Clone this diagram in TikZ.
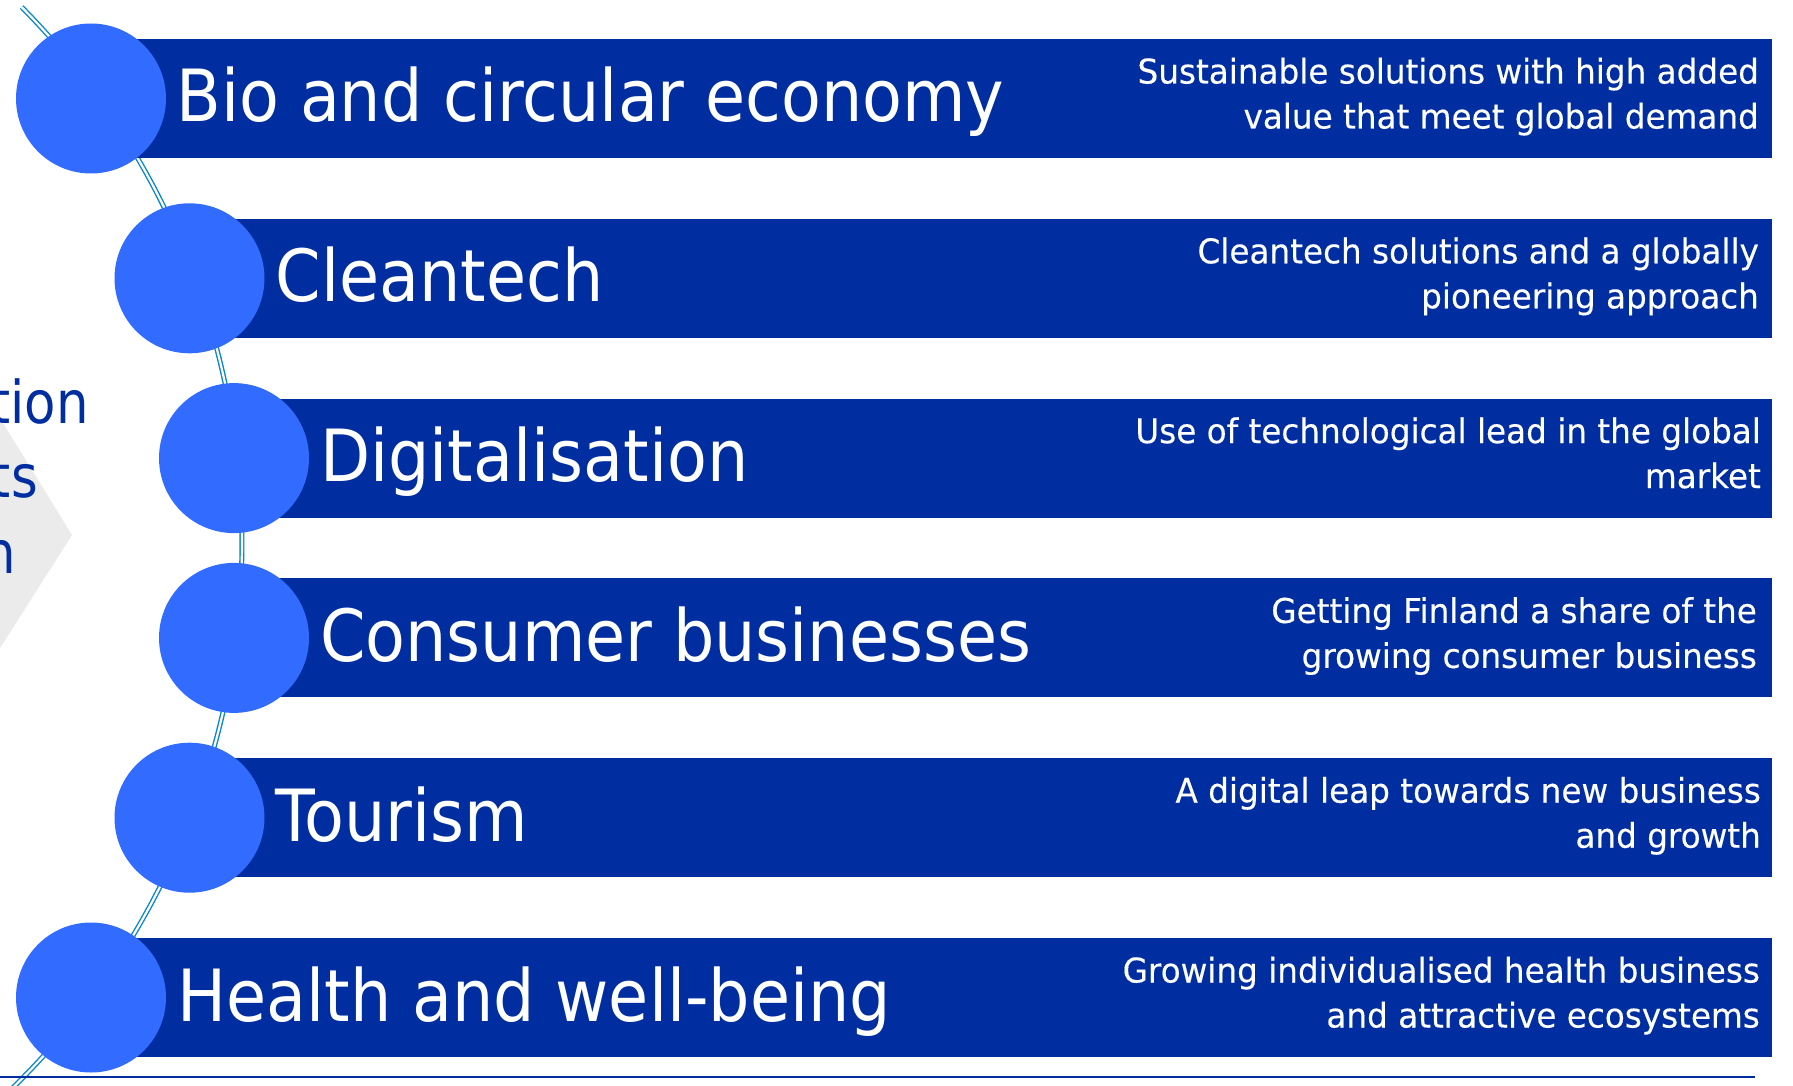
\documentclass[tikz,border=0pt]{standalone}
\usepackage{fontspec}
\setmainfont{DejaVu Sans}
\newfontfamily\titlefont[FakeStretch=0.905]{DejaVu Sans}
\newfontfamily\sidefont[FakeStretch=0.87]{DejaVu Sans}
\newfontfamily\descfont[FakeStretch=0.96,FakeBold=0.3]{DejaVu Sans}
\definecolor{barblue}{HTML}{002EA0}
\definecolor{dotblue}{HTML}{316BFF}
\definecolor{arcblue}{HTML}{0A87C8}
\definecolor{chevgrey}{HTML}{EBEBEB}
\tikzset{
  barfill/.style={fill=barblue},
  dot/.style={circle, fill=dotblue, minimum size=150pt, inner sep=0pt, draw=none},
  titletext/.style={text=white, anchor=base west, inner sep=0pt, font={\titlefont\fontsize{72}{80}\selectfont}},
  desctext/.style={text=white, anchor=base east, inner sep=0pt, font={\descfont\fontsize{34}{45}\selectfont}},
  sidetext/.style={text=barblue, anchor=base east, inner sep=0pt, font={\sidefont\fontsize{59}{75}\selectfont}},
  arcline/.style={draw=arcblue, double=white, line width=1.4pt, double distance=2.2pt},
}
\begin{document}
\begin{tikzpicture}[x=1pt,y=-1pt]
\useasboundingbox (0,0) rectangle (1793,1086);
% grey chevron and cut-off side text
\fill[chevgrey] (-5,410) -- (72,535) -- (-5,656) -- cycle;
\node[sidetext] (s1) at (89,423) {tion};
\node[sidetext] (s2) at (38,497) {ts};
\node[sidetext] (s3) at (16,573) {n};
% arc
\draw[arcline] plot[domain=-44.7:47, samples=90, smooth] ({-520+762*cos(\x)}, {543+762*sin(\x)});
% bars
\fill[barfill] (91,39) rectangle (1772,158);
\fill[barfill] (189.5,218.8) rectangle (1772,337.8);
\fill[barfill] (234,398.6) rectangle (1772,517.6);
\fill[barfill] (234,578.4) rectangle (1772,697.4);
\fill[barfill] (189.5,758.2) rectangle (1772,877.2);
\fill[barfill] (91,938) rectangle (1772,1057);
% circles
\node[dot] (c1) at (91,98.5) {};
\node[dot] (c2) at (189.5,278.3) {};
\node[dot] (c3) at (234,458.1) {};
\node[dot] (c4) at (234,637.9) {};
\node[dot] (c5) at (189.5,817.7) {};
\node[dot] (c6) at (91,997.5) {};
% titles
\node[titletext] (t1) at (176.5,122) {Bio and circular economy};
\node[titletext] (t2) at (275.5,301.8) {Cleantech};
\node[titletext] (t3) at (320,481.6) {Digitalisation};
\node[titletext] (t4) at (320,661.4) {Consumer businesses};
\node[titletext] (t5) at (275.5,841.2) {Tourism};
\node[titletext] (t6) at (177.5,1021) {Health and well-being};
% descriptions
\node[desctext] (d1a) at (1759,83.5) {Sustainable solutions with high added};
\node[desctext] (d1b) at (1759,128.5) {value that meet global demand};
\node[desctext] (d2a) at (1759,263.3) {Cleantech solutions and a globally};
\node[desctext] (d2b) at (1759,308.3) {pioneering approach};
\node[desctext] (d3a) at (1761,443.1) {Use of technological lead in the global};
\node[desctext] (d3b) at (1761,488.1) {market};
\node[desctext] (d4a) at (1757,622.9) {Getting Finland a share of the};
\node[desctext] (d4b) at (1757,667.9) {growing consumer business};
\node[desctext] (d5a) at (1761,802.7) {A digital leap towards new business};
\node[desctext] (d5b) at (1761,847.7) {and growth};
\node[desctext] (d6a) at (1760,982.5) {Growing individualised health business};
\node[desctext] (d6b) at (1760,1027.5) {and attractive ecosystems};
% bottom rule
\coordinate (r0) at (0,1077);
\coordinate (r1) at (1755,1077);
\draw[barblue, line width=2.5pt] (r0) -- (r1);
\end{tikzpicture}
\end{document}
